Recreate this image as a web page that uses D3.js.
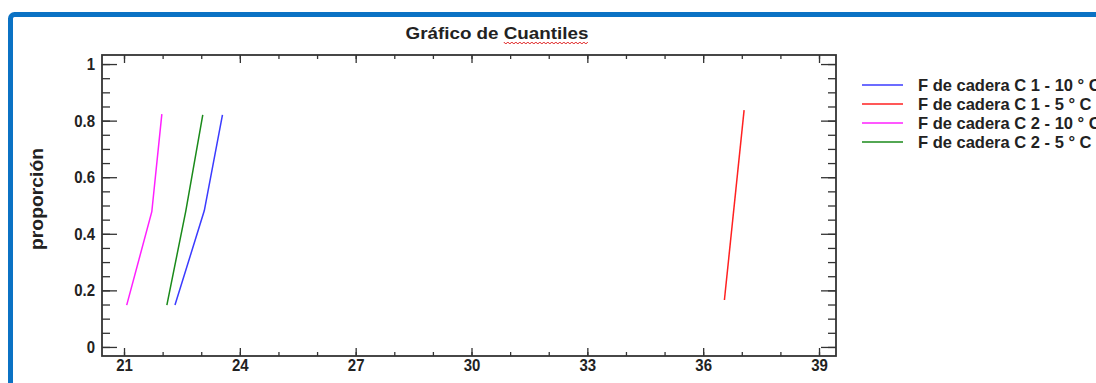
<!DOCTYPE html>
<html>
<head>
<meta charset="utf-8">
<script src="https://cdn.jsdelivr.net/npm/d3@7"></script>
<style>
  html, body { margin: 0; padding: 0; background: #fff; }
  svg { display: block; }
  text { font-family: 'Liberation Sans Narrow', 'Liberation Sans', Arial, sans-serif; font-weight: bold; fill: #222; }
</style>
</head>
<body>
<svg id="chart" width="1096" height="383"></svg>
<script>
// Series: x = F de cadera value, y = cumulative proportion
const seriesNames = [
  "F de cadera C 1 - 10 ° C",
  "F de cadera C 1 - 5 ° C",
  "F de cadera C 2 - 10 ° C",
  "F de cadera C 2 - 5 ° C"
];
const seriesColors = ["#3b3bff", "#ff2020", "#ff20ff", "#1a8a1a"];

const c1_10x = [22.32, 23.08, 23.55];
const c1_10y = [0.148, 0.482, 0.82];
const c1_5x = [36.55, 37.06];
const c1_5y = [0.166, 0.837];
const c2_10x = [21.07, 21.72, 21.98];
const c2_10y = [0.148, 0.478, 0.823];
const c2_5x = [22.11, 22.6, 23.04];
const c2_5y = [0.148, 0.48, 0.82];

const xTicks = [21, 24, 27, 30, 33, 36, 39];
const yTicks = [0, 0.2, 0.4, 0.6, 0.8, 1];
const yTickLabels = ["0", "0.2", "0.4", "0.6", "0.8", "1"];

const titleText = "Gráfico de ";
const titleWord = "Cuantiles";
const yLabel = "proporción";

const seriesData = [
  c1_10x.map((x, i) => [x, c1_10y[i]]),
  c1_5x.map((x, i) => [x, c1_5y[i]]),
  c2_10x.map((x, i) => [x, c2_10y[i]]),
  c2_5x.map((x, i) => [x, c2_5y[i]])
];

const svg = d3.select("#chart");

// squeeze a text element horizontally to mimic a condensed face
function condense(sel, factor) {
  sel.each(function () {
    const len = this.getComputedTextLength();
    d3.select(this).attr("textLength", len * factor).attr("lengthAdjust", "spacingAndGlyphs");
  });
}

// outer blue panel frame
svg.append("rect")
  .attr("x", 10.5).attr("y", 14.5)
  .attr("width", 1200).attr("height", 500)
  .attr("rx", 4)
  .attr("fill", "none")
  .attr("stroke", "#0b72c4")
  .attr("stroke-width", 5);

const plot = { left: 102, right: 836, top: 55, bottom: 356 };

const x = d3.scaleLinear().domain([20.43, 39.44]).range([plot.left, plot.right]);
const y = d3.scaleLinear().domain([-0.032, 1.032]).range([plot.bottom, plot.top]);

const xMinor = d3.range(21, 40, 1);
const yMinor = d3.range(0, 1.0001, 0.05);

const axisColor = "#333";

// ticks on all four sides, pointing inward
const g = svg.append("g");
const bottomAxis = d3.axisBottom(x).tickValues(xMinor).tickSize(-4).tickFormat("");
const bottomMajor = d3.axisBottom(x).tickValues(xTicks).tickSize(-8).tickPadding(3).tickFormat(d3.format("d"));
const topAxis = d3.axisTop(x).tickValues(xMinor).tickSize(-4).tickFormat("");
const topMajor = d3.axisTop(x).tickValues(xTicks).tickSize(-8).tickFormat("");
const leftAxis = d3.axisLeft(y).tickValues(yMinor).tickSize(-8).tickFormat("");
const leftMajor = d3.axisLeft(y).tickValues(yTicks).tickSize(-15).tickPadding(7).tickFormat((d, i) => yTickLabels[i]);
const rightAxis = d3.axisRight(y).tickValues(yMinor).tickSize(-8).tickFormat("");
const rightMajor = d3.axisRight(y).tickValues(yTicks).tickSize(-15).tickFormat("");

function place(axis, tx, ty) {
  const a = g.append("g").attr("transform", `translate(${tx},${ty})`).call(axis);
  a.select(".domain").remove();
  a.selectAll("line").attr("stroke", axisColor).attr("stroke-width", 1.3);
  a.selectAll("text").attr("font-size", 17).attr("fill", "#222")
    .style("font-family", "'Liberation Sans Narrow', 'Liberation Sans', Arial, sans-serif")
    .style("font-weight", "bold");
  condense(a.selectAll("text").filter(function () { return this.textContent !== ""; }), 0.88);
  return a;
}
place(bottomAxis, 0, plot.bottom);
place(bottomMajor, 0, plot.bottom);
place(topAxis, 0, plot.top);
place(topMajor, 0, plot.top);
place(leftAxis, plot.left, 0);
place(leftMajor, plot.left, 0);
place(rightAxis, plot.right, 0);
place(rightMajor, plot.right, 0);

// plot frame
svg.append("rect")
  .attr("x", plot.left).attr("y", plot.top)
  .attr("width", plot.right - plot.left).attr("height", plot.bottom - plot.top)
  .attr("fill", "none").attr("stroke", axisColor).attr("stroke-width", 1.8);

// quantile lines
const line = d3.line().x(d => x(d[0])).y(d => y(d[1]));
svg.append("g").selectAll("path").data(seriesData).join("path")
  .attr("d", line)
  .attr("fill", "none")
  .attr("stroke", (d, i) => seriesColors[i])
  .attr("stroke-width", 1.5);

// title
const title = svg.append("text")
  .attr("x", 497).attr("y", 39)
  .attr("text-anchor", "middle")
  .attr("font-size", 17)
  .attr("textLength", 183)
  .attr("lengthAdjust", "spacingAndGlyphs");
title.append("tspan").text(titleText);
title.append("tspan").text(titleWord);

// red wavy underline beneath the last title word
{
  const tnode = title.node();
  const n = titleText.length;
  const start = tnode.getStartPositionOfChar(n).x;
  const end = tnode.getEndPositionOfChar(n + titleWord.length - 1).x;
  const pts = [];
  let up = true;
  for (let px = start; px <= end + 0.1; px += 2) {
    pts.push([px, up ? 42 : 44]);
    up = !up;
  }
  svg.append("path")
    .attr("d", d3.line()(pts))
    .attr("fill", "none")
    .attr("stroke", "#e02020")
    .attr("stroke-width", 1);
}

// y axis title
const yTitle = svg.append("text")
  .attr("transform", "translate(43,199) rotate(-90)")
  .attr("text-anchor", "middle")
  .attr("font-size", 18)
  .text(yLabel);
yTitle.attr("textLength", 102).attr("lengthAdjust", "spacingAndGlyphs");

// legend
const legend = svg.append("g");
seriesNames.forEach((name, i) => {
  const ly = 85 + i * 19;
  legend.append("line")
    .attr("x1", 862).attr("x2", 903)
    .attr("y1", ly).attr("y2", ly)
    .attr("stroke", seriesColors[i]).attr("stroke-width", 1.5);
  legend.append("text")
    .attr("x", 918).attr("y", ly + 5.5)
    .attr("font-size", 16.5)
    .text(name);
});
</script>
</body>
</html>
